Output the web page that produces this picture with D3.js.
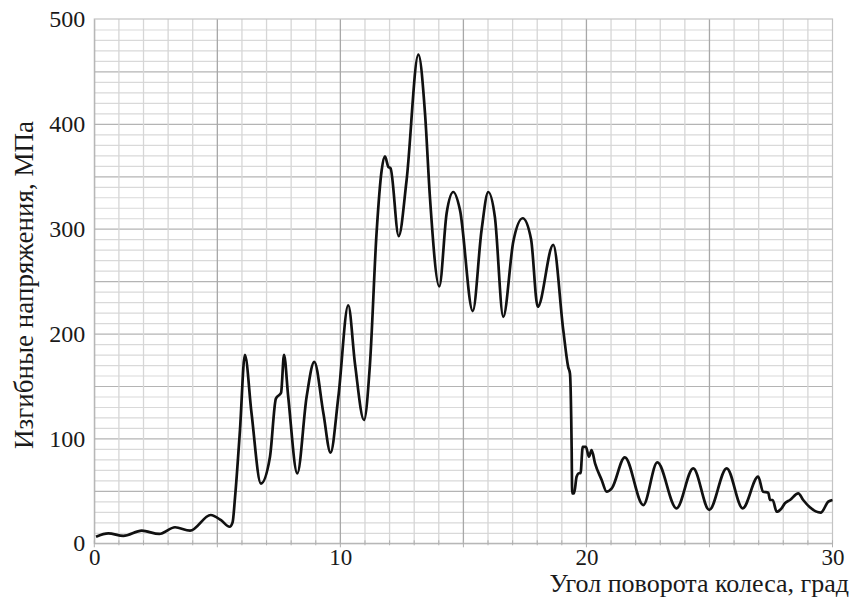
<!DOCTYPE html>
<html>
<head>
<meta charset="utf-8">
<script src="https://cdn.jsdelivr.net/npm/d3@7"></script>
<style>
  body { margin: 0; background: #fff; }
  svg text { font-family: "Liberation Serif", "Times New Roman", Times, serif !important; fill: #1a1a1a; }
</style>
</head>
<body>
<div id="chart"></div>
<script>
// data
var angleDeg = [0.07, 0.57, 1.18, 1.93, 2.64, 3.28, 3.89, 4.73, 5.15, 5.5, 5.62, 5.72, 5.92, 6.12, 6.39, 6.77,
  7.14, 7.38, 7.59, 7.71, 7.88, 8.25, 8.63, 8.94, 9.31, 9.6, 9.92, 10.32, 10.6, 10.96, 11.2, 11.47, 11.68, 11.81,
  11.95, 12.04, 12.37, 12.69, 13.17, 13.44, 13.64, 14.02, 14.32, 14.59, 14.86, 15.38, 15.74, 16.01, 16.28, 16.62,
  17.03, 17.41, 17.75, 18.02, 18.65, 19.06, 19.26, 19.33, 19.4, 19.42, 19.5, 19.6, 19.7, 19.76, 19.85, 19.98,
  20.1, 20.21, 20.35, 20.62, 20.82, 21.03, 21.56, 22.31, 22.88, 23.66, 24.34, 24.99, 25.7, 26.35, 26.98, 27.18,
  27.39, 27.46, 27.57, 27.73, 27.93, 28.07, 28.27, 28.61, 28.81, 29.08, 29.52, 29.83, 30.0];
var stressMPa = [6.3, 9.5, 7, 12, 8.9, 15.3, 12, 27, 22, 15.8, 20, 44, 108, 179.6, 124, 57,
  82.6, 138, 143.6, 179.6, 140, 66.7, 140, 173, 124, 86.4, 140, 227, 170, 117.6, 170, 295.6, 356, 369,
  359, 357.6, 293, 346, 466, 410, 330, 245, 315, 335, 318, 221.5, 299, 335, 311, 216,
  288, 310, 290, 225.6, 284.5, 203, 168, 162, 89, 47.7, 47.7, 63.5, 66.8, 66.8, 92, 92,
  82.6, 89, 76.3, 60.4, 49.2, 52.4, 82, 36.5, 77.2, 33.4, 71.5, 31.8, 71.5, 33.4, 63.5, 49.2,
  48.3, 41.3, 41.3, 30.1, 33.4, 38.3, 41.3, 47.7, 41.3, 34.3, 29.2, 39.7, 41.3];

var xTicks = [0, 10, 20, 30];
var yTicks = [0, 100, 200, 300, 400, 500];
var xLabel = "Угол поворота колеса, град";
var yLabel = "Изгибные напряжения, МПа";

var svgWidth = 850;
var svgHeight = 599;

var margin = { top: 19, right: 17.5, bottom: 55.7, left: 94.3 };
var chartWidth = svgWidth - margin.left - margin.right;
var chartHeight = svgHeight - margin.top - margin.bottom;

var svg = d3.select("#chart")
  .append("svg")
  .attr("width", svgWidth)
  .attr("height", svgHeight)
  .attr("font-family", "Liberation Serif, serif");

var chartGroup = svg.append("g")
  .attr("transform", `translate(${margin.left}, ${margin.top})`);

var xScale = d3.scaleLinear().domain([0, 30]).range([0, chartWidth]);
var yScale = d3.scaleLinear().domain([0, 500]).range([chartHeight, 0]);

// grid: minor every 1 deg / 10 MPa, major every 5 deg / 50 MPa
var gridGroup = chartGroup.append("g").attr("class", "grid");

gridGroup.selectAll("line.hgrid")
  .data(d3.range(10, 500, 10))
  .enter()
  .append("line")
  .attr("x1", 0)
  .attr("x2", chartWidth)
  .attr("y1", d => yScale(d) + 0.5)
  .attr("y2", d => yScale(d) + 0.5)
  .attr("stroke", d => d % 50 === 0 ? "#b4b4b4" : "#d9d9d9")
  .attr("stroke-width", 1.2);

gridGroup.selectAll("line.vgrid")
  .data(d3.range(1, 30, 1))
  .enter()
  .append("line")
  .attr("y1", 0)
  .attr("y2", chartHeight)
  .attr("x1", d => xScale(d))
  .attr("x2", d => xScale(d))
  .attr("stroke", d => d % 5 === 0 ? "#a8a8a8" : "#d6d6d6")
  .attr("stroke-width", 1.3);

// frame
chartGroup.append("rect")
  .attr("x", 0)
  .attr("y", 0)
  .attr("width", chartWidth)
  .attr("height", chartHeight)
  .attr("fill", "none")
  .attr("stroke", "#c4c4c4")
  .attr("stroke-width", 1.2);

// axes
var bottomAxis = d3.axisBottom(xScale).tickValues(xTicks).tickSize(0).tickPadding(0);
var leftAxis = d3.axisLeft(yScale).tickValues(yTicks).tickSize(0).tickPadding(9);

var xAxis = chartGroup.append("g")
  .attr("transform", `translate(0, ${chartHeight})`)
  .call(bottomAxis);
xAxis.select(".domain").attr("stroke", "#b0b0b0");
xAxis.selectAll("text")
  .style("font-size", "23px")
  .attr("y", 22)
  .attr("dy", null);

// little ticks along the bottom every degree
xAxis.selectAll("line.minor")
  .data(d3.range(0, 31, 1))
  .enter()
  .append("line")
  .attr("x1", d => xScale(d))
  .attr("x2", d => xScale(d))
  .attr("y1", -3)
  .attr("y2", d => d % 5 === 0 ? 4 : 2)
  .attr("stroke", "#b0b0b0");

var yAxis = chartGroup.append("g").call(leftAxis);
yAxis.select(".domain").attr("stroke", "#b0b0b0");
yAxis.selectAll("text").style("font-size", "24px");

// axis titles
svg.append("text")
  .attr("x", 849)
  .attr("y", 592)
  .attr("text-anchor", "end")
  .style("font-size", "26px")
  .text(xLabel);

svg.append("text")
  .attr("transform", "rotate(-90)")
  .attr("x", -285)
  .attr("y", 33)
  .attr("text-anchor", "middle")
  .style("font-size", "27px")
  .text(yLabel);

// the curve
var points = angleDeg.map((a, i) => [a, stressMPa[i]]);
var line = d3.line()
  .x(d => xScale(d[0]))
  .y(d => yScale(d[1]))
  .curve(d3.curveMonotoneX);

chartGroup.append("path")
  .datum(points)
  .attr("d", line)
  .attr("fill", "none")
  .attr("stroke", "#111")
  .attr("stroke-width", 2.7)
  .attr("stroke-linejoin", "round");
</script>
</body>
</html>
